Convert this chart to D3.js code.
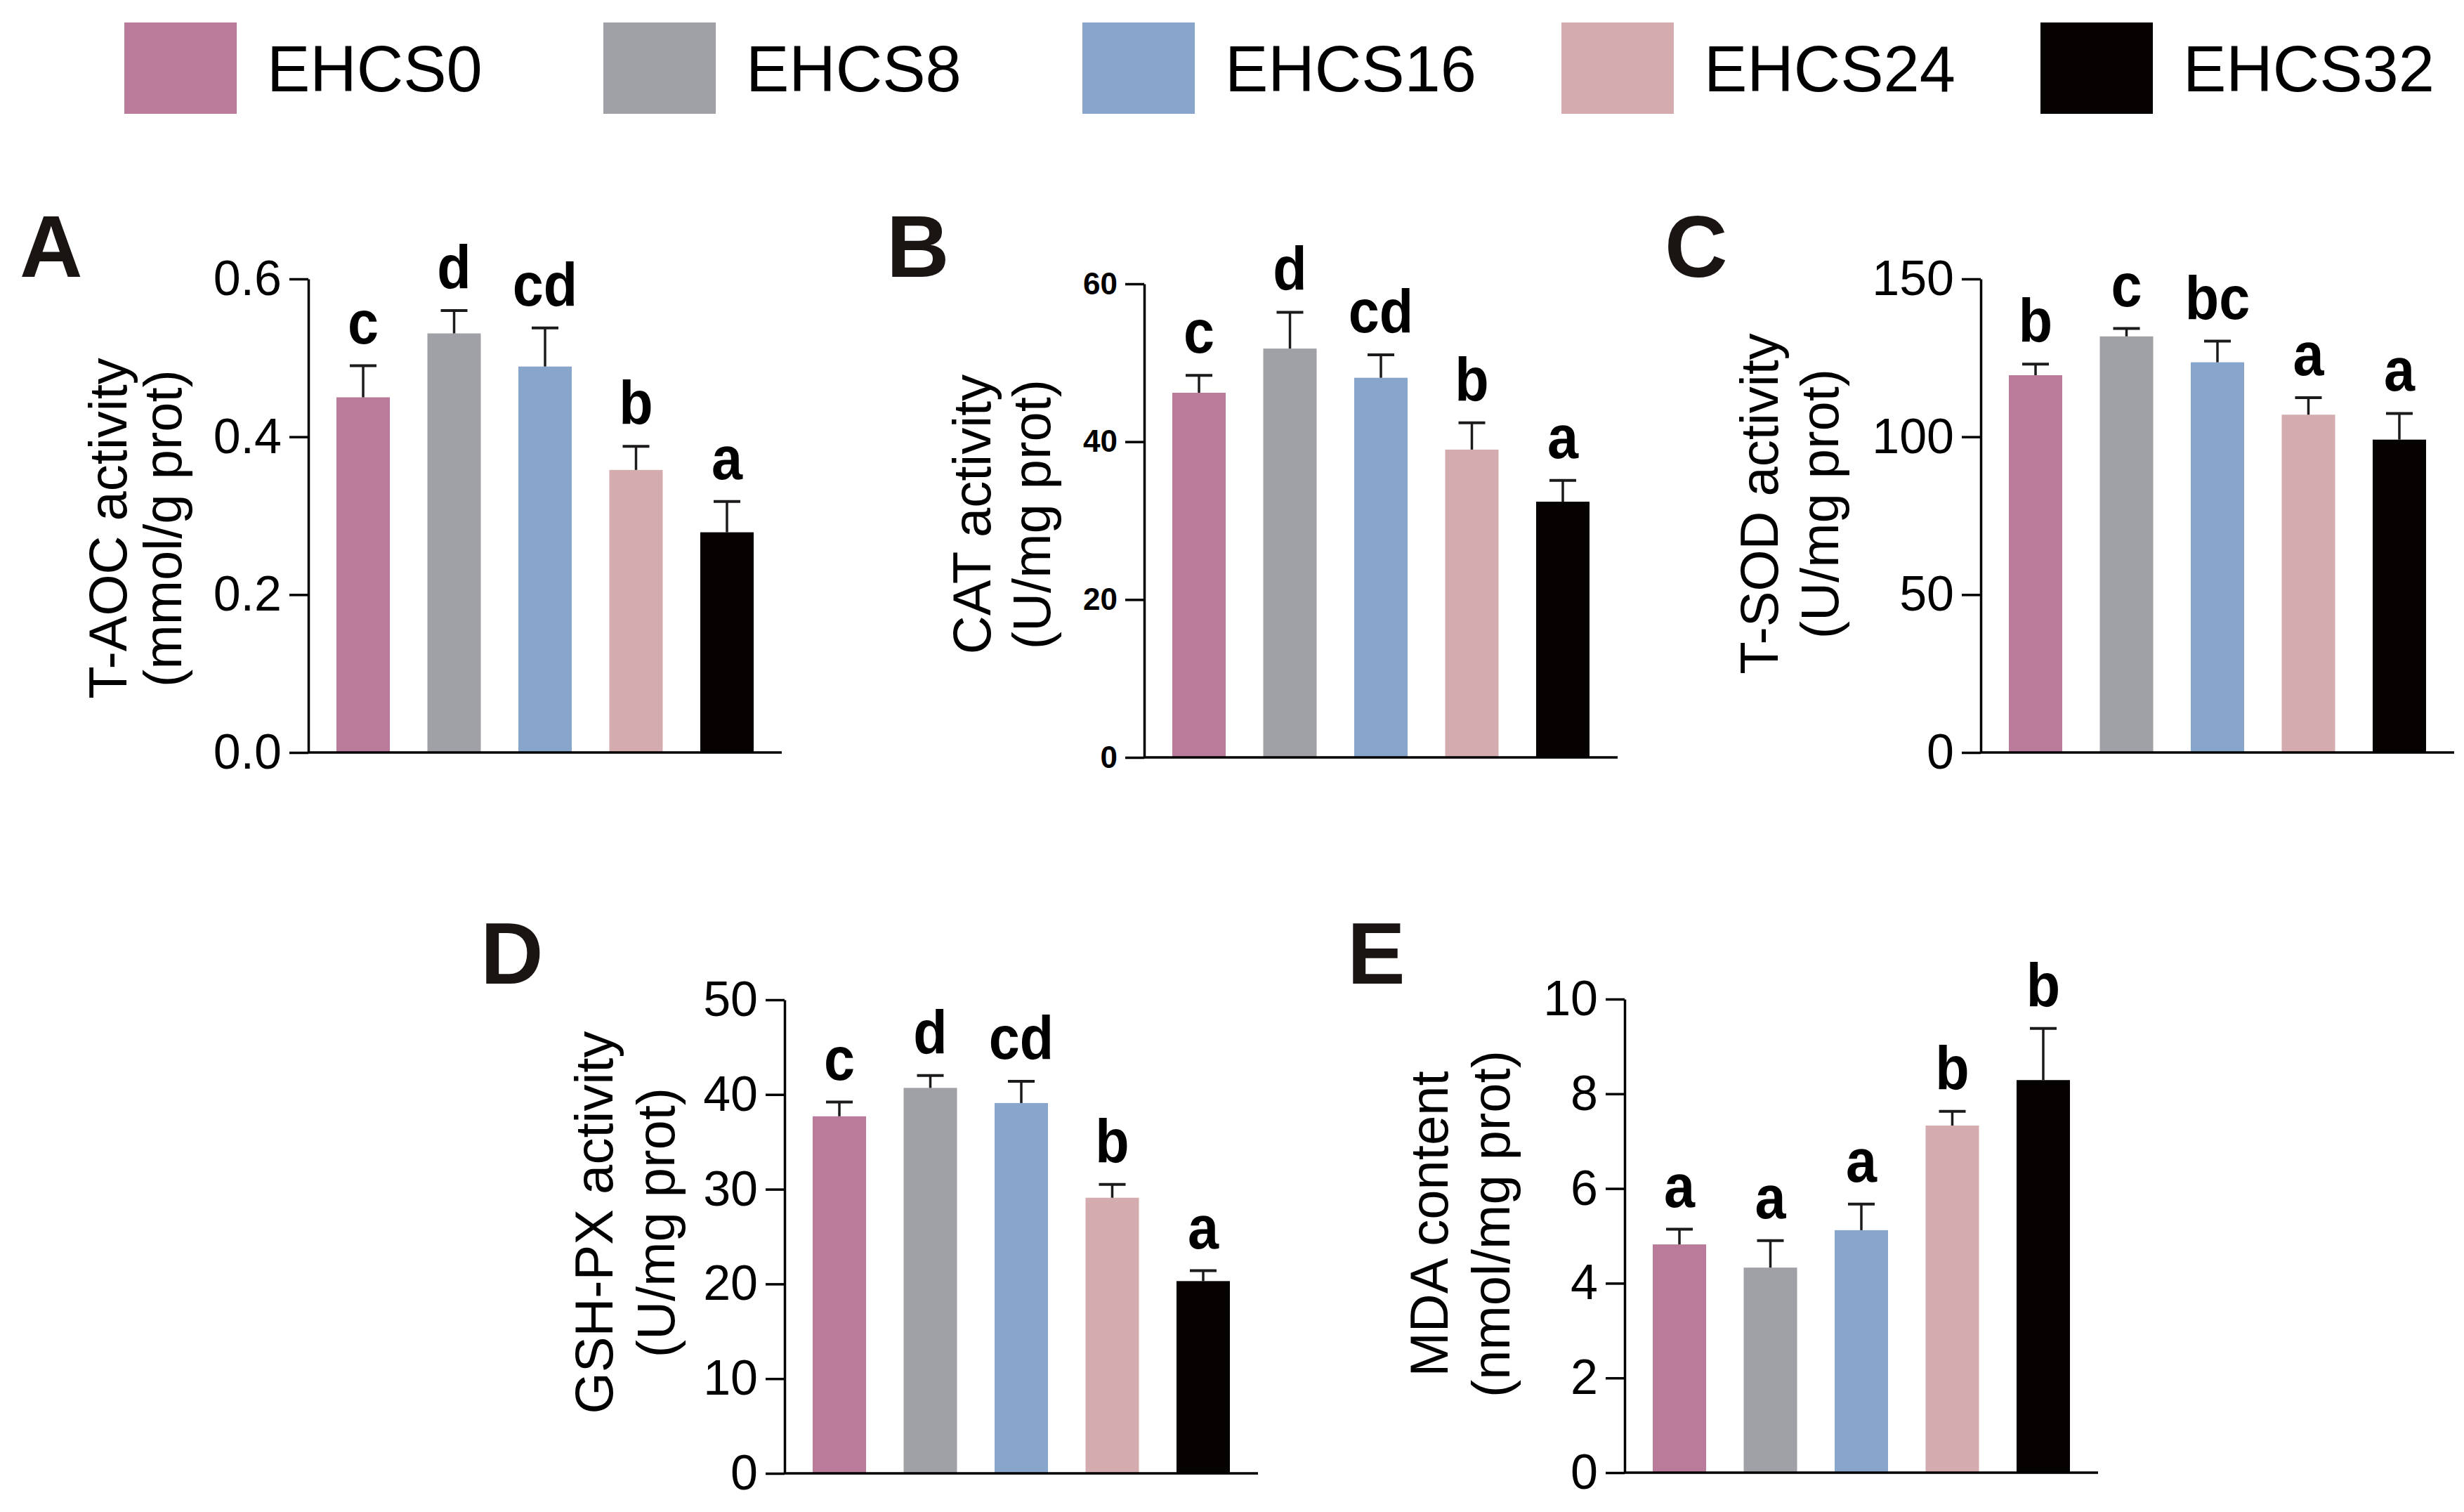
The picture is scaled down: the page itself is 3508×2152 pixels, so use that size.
<!DOCTYPE html>
<html>
<head>
<meta charset="utf-8">
<script src="https://cdn.jsdelivr.net/npm/d3@7"></script>
<style>
  body { margin: 0; background: #fff; }
  svg { display: block; font-family: "Liberation Sans", Arial, sans-serif; }
</style>
</head>
<body>
<div id="chart"></div>
<script>
// groups and colours
const groups = ["EHCS0", "EHCS8", "EHCS16", "EHCS24", "EHCS32"];
const groupColors = ["#BA7A99", "#A0A1A6", "#88A6CB", "#D4ABAE", "#070202"];

// A - T-AOC
const taocMean = [0.450, 0.531, 0.489, 0.358, 0.279];
const taocErr = [0.040, 0.029, 0.049, 0.030, 0.039];
const taocSig = ["c", "d", "cd", "b", "a"];
const taocTicks = [0, 0.2, 0.4, 0.6];

// B - CAT
const catMean = [46.2, 51.8, 48.1, 39.0, 32.4];
const catErr = [2.2, 4.6, 2.9, 3.4, 2.7];
const catSig = ["c", "d", "cd", "b", "a"];
const catTicks = [0, 20, 40, 60];

// C - T-SOD
const sodMean = [119.5, 131.8, 123.6, 107.0, 99.1];
const sodErr = [3.5, 2.5, 6.7, 5.4, 8.3];
const sodSig = ["b", "c", "bc", "a", "a"];
const sodTicks = [0, 50, 100, 150];

// D - GSH-PX
const gshMean = [37.7, 40.7, 39.1, 29.1, 20.3];
const gshErr = [1.5, 1.3, 2.3, 1.4, 1.1];
const gshSig = ["c", "d", "cd", "b", "a"];
const gshTicks = [0, 10, 20, 30, 40, 50];

// E - MDA
const mdaMean = [4.82, 4.33, 5.12, 7.33, 8.29];
const mdaErr = [0.32, 0.57, 0.55, 0.30, 1.09];
const mdaSig = ["a", "a", "a", "b", "b"];
const mdaTicks = [0, 2, 4, 6, 8, 10];

const W = 3508, H = 2152;
const plotSize = 674;

const svg = d3.select("#chart").append("svg")
  .attr("width", W)
  .attr("height", H)
  .style("background", "#fff");

// legend across the top
const legend = svg.append("g");
groups.forEach((g, i) => {
  const lx = 177 + i * 682;
  legend.append("rect")
    .attr("x", lx).attr("y", 32)
    .attr("width", 160).attr("height", 130)
    .attr("fill", groupColors[i]);
  legend.append("text")
    .attr("x", lx + 203).attr("y", 130)
    .attr("font-size", 92)
    .attr("fill", "#000")
    .text(g);
});

const panels = [
  {label: "A", lx: 28, ly: 394, x0: 439, top: 397, mean: taocMean, err: taocErr, sig: taocSig, ticks: taocTicks,
   fmt: d3.format(".1f"), tickFont: 70, tickBold: false, title: ["T-AOC activity", "(mmol/g prot)"],
   titleX: -181, titleGap: 78, titleY: 752},
  {label: "B", lx: 1262, ly: 394, x0: 1629, top: 404, mean: catMean, err: catErr, sig: catSig, ticks: catTicks,
   fmt: d3.format("d"), tickFont: 44, tickBold: true, title: ["CAT activity", "(U/mg prot)"],
   titleX: -134, titleGap: 85, titleY: 732},
  {label: "C", lx: 2370, ly: 394, x0: 2820, top: 397, mean: sodMean, err: sodErr, sig: sodSig, ticks: sodTicks,
   fmt: d3.format("d"), tickFont: 70, tickBold: false, title: ["T-SOD activity", "(U/mg prot)"],
   titleX: -203, titleGap: 86, titleY: 717},
  {label: "D", lx: 684, ly: 1400, x0: 1117, top: 1423, mean: gshMean, err: gshErr, sig: gshSig, ticks: gshTicks,
   fmt: d3.format("d"), tickFont: 70, tickBold: false, title: ["GSH-PX activity", "(U/mg prot)"],
   titleX: -157, titleGap: 88, titleY: 1740},
  {label: "E", lx: 1918, ly: 1400, x0: 2313, top: 1422, mean: mdaMean, err: mdaErr, sig: mdaSig, ticks: mdaTicks,
   fmt: d3.format("d"), tickFont: 70, tickBold: false, title: ["MDA content", "(nmol/mg prot)"],
   titleX: -164, titleGap: 88, titleY: 1742}
];

panels.forEach(p => {
  // panel letter
  svg.append("text")
    .attr("x", p.lx).attr("y", p.ly)
    .attr("font-size", 124)
    .attr("font-weight", "bold")
    .attr("fill", "#1a1512")
    .text(p.label);

  const g = svg.append("g").attr("transform", `translate(${p.x0},${p.top})`);
  const rows = groups.map((name, i) => ({name, mean: p.mean[i], err: p.err[i], sig: p.sig[i], color: groupColors[i]}));

  const x = d3.scaleBand()
    .domain(groups)
    .range([0, plotSize])
    .paddingInner(0.413)
    .paddingOuter(0.309);

  const y = d3.scaleLinear()
    .domain([0, d3.max(p.ticks)])
    .range([plotSize, 0]);

  // bars
  g.selectAll("rect.bar")
    .data(rows)
    .enter().append("rect")
    .attr("class", "bar")
    .attr("x", d => x(d.name))
    .attr("y", d => y(d.mean))
    .attr("width", x.bandwidth())
    .attr("height", d => y(0) - y(d.mean))
    .attr("fill", d => d.color);

  // upper error bars
  const capW = 38;
  const eb = g.selectAll("g.err")
    .data(rows)
    .enter().append("g")
    .attr("class", "err")
    .attr("stroke", "#1c1a1a")
    .attr("stroke-width", 3.5);
  eb.append("line")
    .attr("x1", d => x(d.name) + x.bandwidth() / 2)
    .attr("x2", d => x(d.name) + x.bandwidth() / 2)
    .attr("y1", d => y(d.mean))
    .attr("y2", d => y(d.mean + d.err));
  eb.append("line")
    .attr("stroke-width", 4)
    .attr("x1", d => x(d.name) + x.bandwidth() / 2 - capW / 2)
    .attr("x2", d => x(d.name) + x.bandwidth() / 2 + capW / 2)
    .attr("y1", d => y(d.mean + d.err))
    .attr("y2", d => y(d.mean + d.err));

  // significance letters
  g.selectAll("text.sig")
    .data(rows)
    .enter().append("text")
    .attr("class", "sig")
    .attr("transform", d => `translate(${x(d.name) + x.bandwidth() / 2},${y(d.mean + d.err) - 32}) scale(0.9,1)`)
    .attr("text-anchor", "middle")
    .attr("font-size", 88)
    .attr("font-weight", "bold")
    .attr("fill", "#000")
    .text(d => d.sig);

  // y axis
  const yAxis = g.append("g")
    .call(d3.axisLeft(y)
      .tickValues(p.ticks)
      .tickFormat(p.fmt)
      .tickSize(27)
      .tickSizeOuter(0)
      .tickPadding(11));
  yAxis.select(".domain").attr("stroke", "#000").attr("stroke-width", 3.5);
  yAxis.selectAll(".tick line").attr("stroke", "#000").attr("stroke-width", 3.5);
  yAxis.selectAll(".tick text")
    .attr("font-size", p.tickFont)
    .attr("font-weight", p.tickBold ? "bold" : "normal")
    .attr("font-family", "'Liberation Sans', Arial, sans-serif")
    .attr("fill", "#000");

  // x axis baseline, no ticks
  g.append("line")
    .attr("x1", 0).attr("x2", plotSize)
    .attr("y1", y(0)).attr("y2", y(0))
    .attr("stroke", "#000")
    .attr("stroke-width", 3.5);

  // rotated two-line y title
  const t = svg.append("g")
    .attr("transform", `translate(${p.x0 + p.titleX},${p.titleY}) rotate(-90)`);
  t.append("text")
    .attr("x", 0).attr("y", -p.titleGap)
    .attr("text-anchor", "middle")
    .attr("font-size", 76)
    .attr("fill", "#000")
    .text(p.title[0]);
  t.append("text")
    .attr("x", 0).attr("y", 0)
    .attr("text-anchor", "middle")
    .attr("font-size", 76)
    .attr("fill", "#000")
    .text(p.title[1]);
});
</script>
</body>
</html>
